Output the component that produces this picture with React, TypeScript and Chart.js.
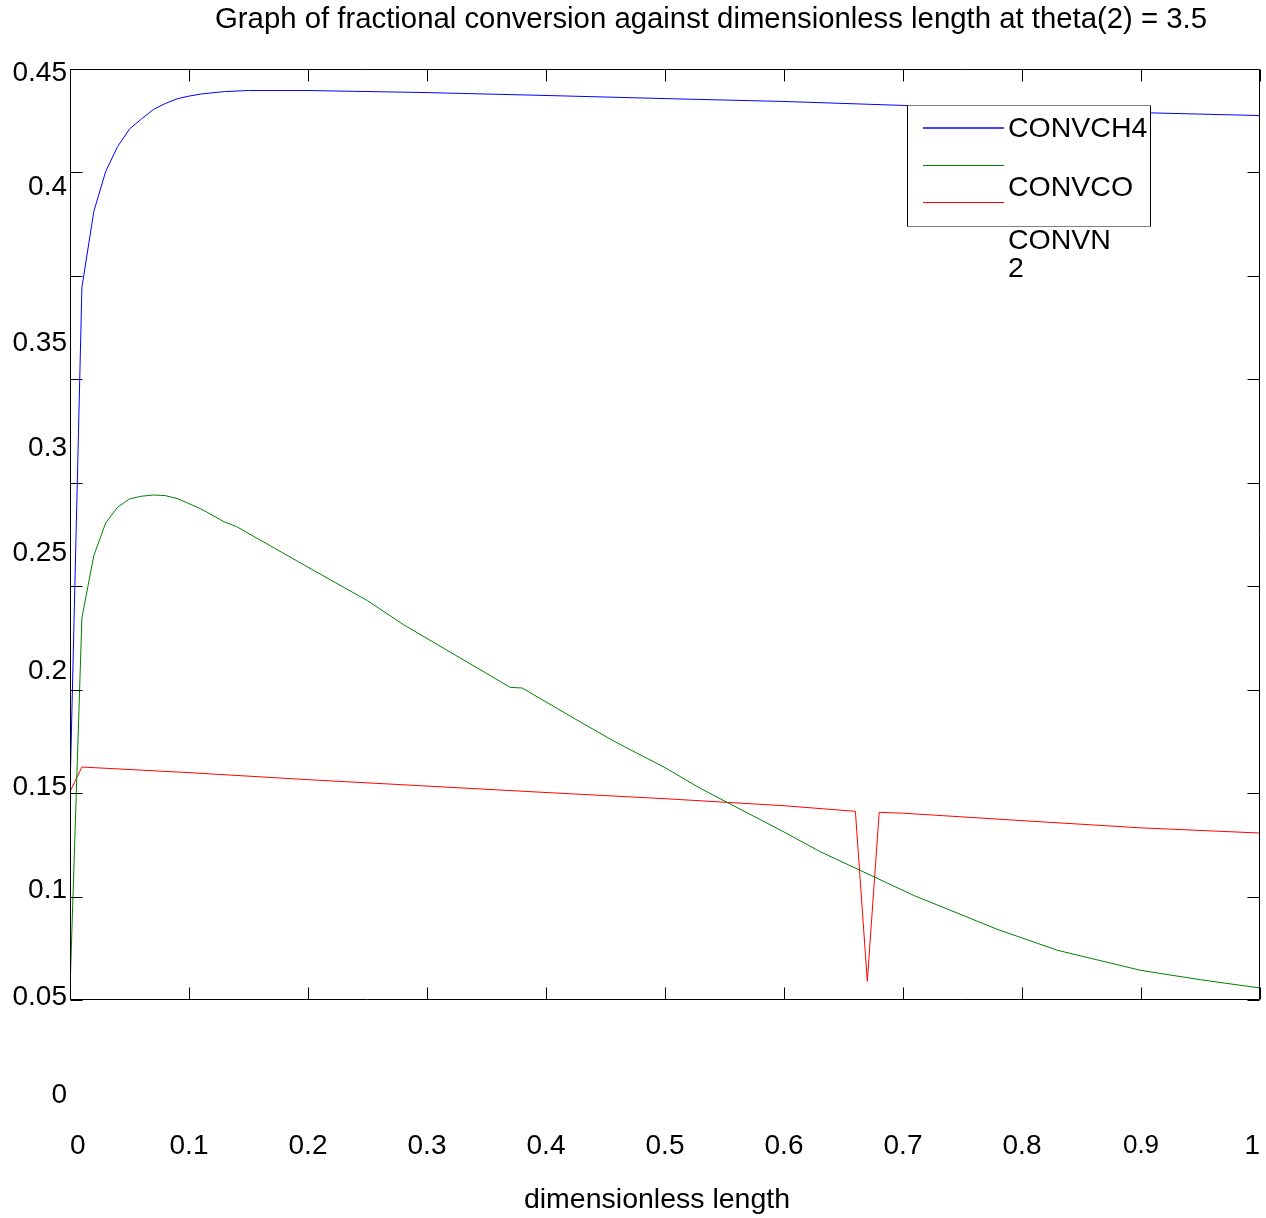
import { useEffect, useRef } from 'react';
import { Chart, registerables } from 'chart.js';

Chart.register(...registerables);

const FONT = '"Liberation Sans", Arial, Helvetica, sans-serif';

const titleText = 'Graph of fractional conversion against dimensionless length at theta(2) = 3.5';
const xAxisTitle = 'dimensionless length';
const seriesLabels = ['CONVCH4', 'CONVCO', 'CONVN2'];
const seriesColors = ['#0000ff', '#008000', '#ff0000'];
const legendTextLines = [['CONVCH4'], ['CONVCO'], ['CONVN', '2']];

// CONVCH4 (blue)
const ch4X = [0, 0.01, 0.02, 0.03, 0.04, 0.05, 0.06, 0.07, 0.08, 0.09, 0.1, 0.11, 0.13, 0.15, 0.2, 0.3, 0.4, 0.5, 0.6, 0.7, 0.8, 0.9, 1.0];
const ch4Y = [0.1007, 0.3444, 0.3811, 0.4005, 0.4125, 0.421, 0.4258, 0.4304, 0.4333, 0.4356, 0.4369, 0.4379, 0.4391, 0.4396, 0.4396, 0.4386, 0.4372, 0.4357, 0.4343, 0.4324, 0.4309, 0.4289, 0.4275];

// CONVCO (green)
const coX = [0, 0.01, 0.02, 0.03, 0.04, 0.05, 0.06, 0.07, 0.08, 0.09, 0.1, 0.11, 0.13, 0.14, 0.2, 0.25, 0.28, 0.37, 0.38, 0.43, 0.46, 0.5, 0.53, 0.6, 0.63, 0.71, 0.78, 0.83, 0.9, 0.95, 1.0];
const coY = [0.005, 0.1847, 0.2148, 0.2306, 0.2382, 0.2422, 0.2435, 0.2441, 0.2438, 0.2424, 0.2399, 0.2374, 0.231, 0.2288, 0.2092, 0.193, 0.1815, 0.1511, 0.1508, 0.134, 0.1242, 0.1123, 0.1022, 0.0812, 0.0718, 0.0503, 0.034, 0.024, 0.0143, 0.0098, 0.0058];

// CONVN2 (red)
const n2X = [0, 0.01, 0.1, 0.2, 0.3, 0.4, 0.5, 0.6, 0.66, 0.67, 0.68, 0.7, 0.8, 0.9, 1.0];
const n2Y = [0.1007, 0.1126, 0.1099, 0.1065, 0.1034, 0.1003, 0.0973, 0.0939, 0.0912, 0.009, 0.0907, 0.0903, 0.0867, 0.0832, 0.0807];

// axis tick marks (drawn inward) and the (misplaced) y tick labels of the original picture
const xMarks = [0, 0.1, 0.2, 0.3, 0.4, 0.5, 0.6, 0.7, 0.8, 0.9, 1.0];
const yMarks = [0, 0.05, 0.1, 0.15, 0.2, 0.25, 0.3, 0.35, 0.4, 0.45];
const yTickLabels = ['0.45', '0.4', '0.35', '0.3', '0.25', '0.2', '0.15', '0.1', '0.05', '0'];
const yTickLabelAt = [0.4481, 0.393, 0.3176, 0.2668, 0.2161, 0.159, 0.103, 0.0532, 0.0015, -0.0459];

const toPoints = (xs: number[], ys: number[]) => xs.map((x, i) => ({ x, y: ys[i] }));

const decorPlugin = {
  id: 'decor',
  afterDatasetsDraw(chart: any) {
    const { ctx, chartArea: a, scales } = chart;
    const xs = scales.x;
    const ys = scales.y;
    ctx.save();
    // frame + inward ticks
    ctx.strokeStyle = '#000';
    ctx.lineWidth = 1;
    const L = Math.round(a.left) + 0.5;
    const R = Math.round(a.right) - 0.5;
    const T = Math.round(a.top) + 0.5;
    const B = Math.round(a.bottom) - 0.5;
    ctx.beginPath();
    ctx.rect(L, T, R - L, B - T);
    for (const v of xMarks) {
      const px = Math.round(xs.getPixelForValue(v)) + 0.5;
      ctx.moveTo(px, T);
      ctx.lineTo(px, T + 12);
      ctx.moveTo(px, B);
      ctx.lineTo(px, B - 12);
    }
    for (const v of yMarks) {
      const py = Math.round(ys.getPixelForValue(v)) + 0.5;
      ctx.moveTo(L, py);
      ctx.lineTo(L + 12, py);
      ctx.moveTo(R, py);
      ctx.lineTo(R - 12, py);
    }
    ctx.stroke();

    // legend box
    const bl = 907.5, bt = 105.5, br = 1150.5, bb = 226.5;
    ctx.fillStyle = '#fff';
    ctx.fillRect(bl, bt, br - bl, bb - bt);
    ctx.beginPath();
    ctx.strokeStyle = '#808080';
    ctx.moveTo(bl, bt); ctx.lineTo(br, bt);
    ctx.moveTo(bl, bb); ctx.lineTo(br, bb);
    ctx.stroke();
    ctx.beginPath();
    ctx.strokeStyle = '#000';
    ctx.moveTo(bl, bt); ctx.lineTo(bl, bb);
    ctx.moveTo(br, bt); ctx.lineTo(br, bb);
    ctx.stroke();
    const lineYs = [128, 165.5, 202.5];
    chart.data.datasets.forEach((ds: any, i: number) => {
      ctx.beginPath();
      ctx.strokeStyle = ds.borderColor;
      ctx.lineWidth = i === 0 ? 1.5 : 1.2;
      ctx.moveTo(923, lineYs[i]);
      ctx.lineTo(1004, lineYs[i]);
      ctx.stroke();
    });
    ctx.fillStyle = '#000';
    ctx.font = `28.5px ${FONT}`;
    ctx.textAlign = 'left';
    ctx.textBaseline = 'middle';
    const textYs = [[129.5], [188.5], [241, 269.5]];
    legendTextLines.forEach((lines, i) => {
      lines.forEach((t, j) => ctx.fillText(t, 1008, textYs[i][j]));
    });

    // x axis title (slightly left of the plot centre, as in the original)
    ctx.textAlign = 'center';
    ctx.fillText(xAxisTitle, 657, 1200);

    // title (centred where the original had it)
    ctx.font = `29px ${FONT}`;
    const w = ctx.measureText(titleText).width;
    const targetW = 992;
    ctx.translate(711, 20);
    ctx.scale(targetW / w, 1);
    ctx.fillText(titleText, 0, 0);
    ctx.restore();
  },
};

export default function App() {
  const ref = useRef<HTMLCanvasElement>(null);
  useEffect(() => {
    if (!ref.current) return;
    const chart = new Chart(ref.current, {
      type: 'line',
      data: {
        datasets: [
          { label: seriesLabels[0], data: toPoints(ch4X, ch4Y), borderColor: seriesColors[0], backgroundColor: seriesColors[0] },
          { label: seriesLabels[1], data: toPoints(coX, coY), borderColor: seriesColors[1], backgroundColor: seriesColors[1] },
          { label: seriesLabels[2], data: toPoints(n2X, n2Y), borderColor: seriesColors[2], backgroundColor: seriesColors[2] },
        ],
      },
      options: {
        animation: false,
        responsive: true,
        maintainAspectRatio: false,
        devicePixelRatio: 1,
        layout: { padding: { top: 69, right: 6, bottom: 0, left: 0 } },
        elements: { point: { radius: 0 }, line: { borderWidth: 1, tension: 0 } },
        plugins: { legend: { display: false }, title: { display: false }, tooltip: { enabled: false } },
        scales: {
          x: {
            type: 'linear',
            min: 0,
            max: 1,
            grid: { display: false, drawTicks: true, tickLength: 127 },
            border: { display: false },
            ticks: {
              stepSize: 0.1,
              autoSkip: false,
              maxRotation: 0,
              align: 'inner',
              padding: 2,
              color: '#000',
              font: (c: any) => (c.tick && Math.abs(c.tick.value - 0.9) < 1e-6
                ? { family: FONT, size: 26, lineHeight: 33.6 / 26 }
                : { family: FONT, size: 28 }),
              callback: (v: any) => `${Math.round(Number(v) * 10) / 10}`,
            },
            title: { display: false, text: xAxisTitle },
            afterFit: (s: any) => { s.height = 218; },
          },
          y: {
            type: 'linear',
            min: 0,
            max: 0.45,
            grid: { display: false, drawTicks: false },
            border: { display: false },
            afterBuildTicks: (s: any) => { s.ticks = yTickLabelAt.map((v) => ({ value: v })); },
            ticks: {
              autoSkip: false,
              padding: 3,
              color: '#000',
              font: { family: FONT, size: 28 },
              callback: (_v: any, i: number) => yTickLabels[i],
            },
            afterFit: (s: any) => { s.width = 70; },
          },
        },
      } as any,
      plugins: [decorPlugin],
    });
    return () => chart.destroy();
  }, []);
  return (
    <div style={{ position: 'absolute', left: 0, top: 0, width: 1266, height: 1218, background: '#fff' }}>
      <canvas ref={ref} />
    </div>
  );
}
